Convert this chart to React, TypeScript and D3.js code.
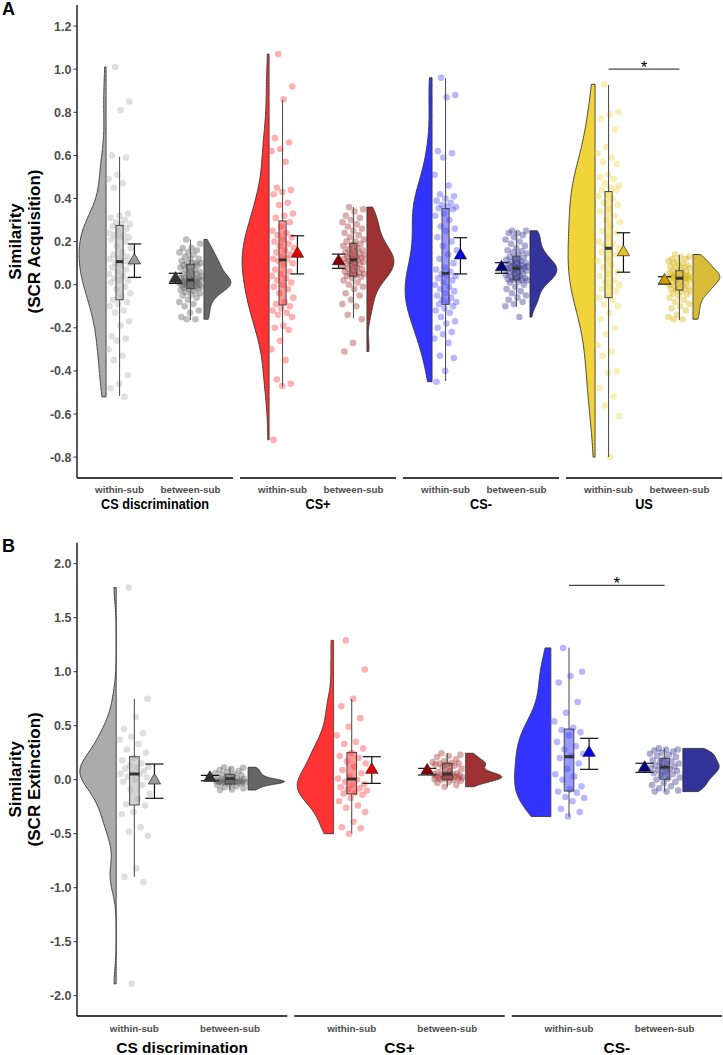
import React from "react";
import * as d3 from "d3";

// ---------------- data ----------------
const facetsA = ["CS discrimination", "CS+", "CS-", "US"];
const facetsB = ["CS discrimination", "CS+", "CS-"];
const conditions = ["within-sub", "between-sub"];

// Panel A (SCR Acquisition)
const aCSdWithin = [1.01, 0.85, 0.81, 0.60, 0.59, 0.51, 0.49, 0.47, 0.45, 0.33, 0.32, 0.31, 0.30, 0.29, 0.28, 0.28, 0.27, 0.26, 0.25, 0.24, 0.23, 0.23, 0.22, 0.22, 0.21, 0.20, 0.18, 0.17, 0.15, 0.14, 0.13, 0.12, 0.12, 0.11, 0.10, 0.10, 0.09, 0.08, 0.07, 0.06, 0.05, 0.04, 0.03, 0.02, 0.02, 0.01, -0.01, -0.02, -0.04, -0.05, -0.07, -0.08, -0.09, -0.10, -0.12, -0.13, -0.17, -0.19, -0.24, -0.25, -0.26, -0.30, -0.33, -0.35, -0.42, -0.46, -0.48, -0.52];
const aCSdBetween = [0.21, 0.19, 0.17, 0.17, 0.16, 0.15, 0.15, 0.14, 0.13, 0.12, 0.12, 0.11, 0.10, 0.10, 0.10, 0.10, 0.09, 0.09, 0.08, 0.08, 0.07, 0.07, 0.06, 0.06, 0.05, 0.05, 0.05, 0.04, 0.04, 0.03, 0.03, 0.03, 0.03, 0.02, 0.02, 0.02, 0.018, 0.015, 0.012, 0.01, 0.008, 0.005, 0.003, 0.0, 0.0, -0.003, -0.005, -0.008, -0.01, -0.012, -0.015, -0.017, -0.02, -0.025, -0.03, -0.035, -0.04, -0.045, -0.05, -0.06, -0.07, -0.08, -0.09, -0.10, -0.12, -0.13, -0.15, -0.16, -0.16];
const aCSpWithin = [1.07, 0.92, 0.86, 0.68, 0.66, 0.63, 0.62, 0.57, 0.45, 0.44, 0.43, 0.42, 0.38, 0.37, 0.33, 0.32, 0.31, 0.29, 0.27, 0.25, 0.24, 0.23, 0.22, 0.21, 0.20, 0.19, 0.18, 0.17, 0.16, 0.15, 0.14, 0.13, 0.12, 0.12, 0.11, 0.10, 0.09, 0.07, 0.06, 0.05, 0.04, 0.03, 0.02, 0.01, 0.0, -0.01, -0.02, -0.04, -0.06, -0.08, -0.09, -0.10, -0.11, -0.12, -0.13, -0.14, -0.15, -0.19, -0.20, -0.21, -0.26, -0.30, -0.35, -0.44, -0.46, -0.47, -0.72];
const aCSpBetween = [0.36, 0.35, 0.34, 0.32, 0.31, 0.30, 0.29, 0.28, 0.27, 0.26, 0.25, 0.24, 0.23, 0.22, 0.21, 0.20, 0.20, 0.19, 0.185, 0.18, 0.17, 0.165, 0.16, 0.155, 0.15, 0.145, 0.14, 0.135, 0.13, 0.13, 0.125, 0.12, 0.12, 0.115, 0.11, 0.105, 0.10, 0.10, 0.095, 0.09, 0.085, 0.08, 0.075, 0.07, 0.065, 0.06, 0.055, 0.05, 0.05, 0.045, 0.04, 0.035, 0.03, 0.02, 0.01, 0.0, -0.01, -0.02, -0.04, -0.05, -0.07, -0.09, -0.10, -0.14, -0.16, -0.27, -0.31];
const aCSmWithin = [0.96, 0.88, 0.87, 0.62, 0.61, 0.59, 0.51, 0.46, 0.42, 0.41, 0.40, 0.39, 0.38, 0.37, 0.36, 0.36, 0.355, 0.35, 0.33, 0.32, 0.30, 0.27, 0.26, 0.25, 0.22, 0.20, 0.18, 0.16, 0.14, 0.12, 0.10, 0.08, 0.07, 0.06, 0.05, 0.04, 0.04, 0.03, 0.02, 0.01, 0.0, -0.01, -0.02, -0.03, -0.04, -0.05, -0.06, -0.07, -0.08, -0.08, -0.09, -0.10, -0.11, -0.12, -0.13, -0.15, -0.17, -0.18, -0.20, -0.22, -0.23, -0.25, -0.27, -0.33, -0.34, -0.40, -0.45];
const aCSmBetween = [0.25, 0.25, 0.24, 0.24, 0.23, 0.22, 0.21, 0.20, 0.19, 0.18, 0.17, 0.16, 0.155, 0.15, 0.145, 0.14, 0.13, 0.125, 0.12, 0.115, 0.11, 0.105, 0.10, 0.10, 0.095, 0.09, 0.09, 0.085, 0.08, 0.08, 0.078, 0.077, 0.075, 0.07, 0.068, 0.065, 0.06, 0.055, 0.05, 0.05, 0.045, 0.04, 0.035, 0.03, 0.03, 0.025, 0.022, 0.022, 0.02, 0.015, 0.01, 0.0, -0.01, -0.02, -0.03, -0.04, -0.05, -0.06, -0.07, -0.08, -0.09, -0.10, -0.15];
const aUSWithin = [0.93, 0.80, 0.79, 0.77, 0.72, 0.64, 0.61, 0.59, 0.57, 0.56, 0.51, 0.50, 0.49, 0.47, 0.46, 0.45, 0.44, 0.44, 0.42, 0.41, 0.40, 0.38, 0.37, 0.35, 0.34, 0.32, 0.30, 0.29, 0.27, 0.25, 0.24, 0.22, 0.20, 0.19, 0.18, 0.17, 0.16, 0.15, 0.14, 0.12, 0.11, 0.09, 0.08, 0.06, 0.05, 0.04, 0.02, 0.01, 0.0, -0.01, -0.02, -0.03, -0.05, -0.06, -0.07, -0.09, -0.10, -0.13, -0.16, -0.20, -0.23, -0.28, -0.31, -0.33, -0.40, -0.41, -0.48, -0.52, -0.56, -0.61, -0.80];
const aUSBetween = [0.14, 0.13, 0.13, 0.12, 0.12, 0.11, 0.11, 0.10, 0.10, 0.09, 0.09, 0.085, 0.08, 0.08, 0.075, 0.07, 0.065, 0.06, 0.06, 0.055, 0.05, 0.05, 0.045, 0.045, 0.04, 0.04, 0.04, 0.035, 0.035, 0.035, 0.03, 0.03, 0.03, 0.025, 0.02, 0.02, 0.015, 0.01, 0.01, 0.005, 0.0, -0.005, -0.01, -0.01, -0.015, -0.02, -0.02, -0.025, -0.03, -0.035, -0.04, -0.045, -0.05, -0.06, -0.07, -0.08, -0.09, -0.10, -0.11, -0.12, -0.14, -0.15, -0.16, -0.16];

// summary values per group, order: [CSd-w, CSd-b, CS+-w, CS+-b, CS--w, CS--b, US-w, US-b]
const medianA = [0.107, 0.022, 0.115, 0.115, 0.053, 0.076, 0.169, 0.03];
const q1A = [-0.07, -0.017, -0.094, 0.04, -0.091, 0.022, -0.06, -0.025];
const q3A = [0.275, 0.095, 0.296, 0.192, 0.353, 0.133, 0.432, 0.065];
const whiskLoA = [-0.516, -0.164, -0.473, -0.156, -0.447, -0.102, -0.80, -0.164];
const whiskHiA = [0.594, 0.21, 0.857, 0.36, 0.958, 0.25, 0.927, 0.138];
const meanA = [0.115, 0.03, 0.146, 0.111, 0.138, 0.083, 0.153, 0.022];
const ciLoA = [0.034, 0.006, 0.05, 0.076, 0.05, 0.053, 0.058, 0.003];
const ciHiA = [0.189, 0.053, 0.227, 0.142, 0.218, 0.102, 0.241, 0.037];

// Panel B (SCR Extinction)
const bCSdWithin = [1.78, 0.75, 0.58, 0.47, 0.43, 0.40, 0.37, 0.33, 0.28, 0.25, 0.20, 0.18, 0.15, 0.13, 0.12, 0.11, 0.10, 0.08, 0.06, 0.055, 0.05, 0.03, 0.02, 0.0, -0.02, -0.05, -0.09, -0.13, -0.18, -0.23, -0.24, -0.30, -0.32, -0.44, -0.48, -0.52, -0.82, -0.90, -0.95, -1.89];
const bCSdBetween = [0.115, 0.11, 0.10, 0.09, 0.08, 0.07, 0.06, 0.05, 0.045, 0.04, 0.03, 0.02, 0.015, 0.01, 0.005, 0.0, -0.005, -0.01, -0.012, -0.015, -0.015, -0.018, -0.02, -0.02, -0.02, -0.022, -0.025, -0.025, -0.03, -0.03, -0.035, -0.04, -0.05, -0.06, -0.07, -0.08, -0.09, -0.095];
const bCSpWithin = [1.29, 1.02, 0.75, 0.68, 0.57, 0.49, 0.41, 0.35, 0.33, 0.29, 0.25, 0.22, 0.20, 0.17, 0.15, 0.12, 0.09, 0.06, 0.03, 0.01, 0.0, -0.02, -0.04, -0.05, -0.07, -0.08, -0.09, -0.10, -0.12, -0.13, -0.14, -0.17, -0.20, -0.24, -0.26, -0.30, -0.39, -0.44, -0.45, -0.50];
const bCSpBetween = [0.245, 0.23, 0.22, 0.21, 0.19, 0.17, 0.16, 0.155, 0.15, 0.15, 0.14, 0.14, 0.13, 0.12, 0.10, 0.08, 0.07, 0.06, 0.055, 0.053, 0.05, 0.045, 0.04, 0.035, 0.03, 0.03, 0.025, 0.02, 0.02, 0.015, 0.01, 0.01, 0.005, 0.0, 0.0, -0.01, -0.02, -0.03, -0.05, -0.065];
const bCSmWithin = [1.22, 1.00, 0.96, 0.90, 0.72, 0.62, 0.54, 0.48, 0.46, 0.44, 0.41, 0.35, 0.31, 0.28, 0.24, 0.22, 0.20, 0.15, 0.10, 0.05, 0.03, 0.0, -0.06, -0.09, -0.11, -0.12, -0.16, -0.17, -0.20, -0.27, -0.30, -0.34];
const bCSmBetween = [0.29, 0.28, 0.28, 0.27, 0.26, 0.25, 0.24, 0.23, 0.22, 0.21, 0.19, 0.18, 0.17, 0.16, 0.15, 0.14, 0.13, 0.12, 0.12, 0.11, 0.10, 0.09, 0.08, 0.07, 0.06, 0.05, 0.04, 0.02, 0.01, 0.0, -0.02, -0.03, -0.05, -0.06, -0.08, -0.10, -0.11, -0.11];

const medianB = [0.053, 0.01, 0.006, 0.053, 0.213, 0.115];
const q1B = [-0.234, -0.04, -0.132, 0.0, -0.105, 0.004];
const q3B = [0.213, 0.05, 0.253, 0.152, 0.469, 0.198];
const whiskLoB = [-0.898, -0.095, -0.496, -0.065, -0.343, -0.11];
const whiskHiB = [0.747, 0.115, 0.747, 0.244, 1.222, 0.29];
const meanB = [-0.003, 0.022, 0.096, 0.09, 0.253, 0.115];
const ciLoB = [-0.172, -0.01, -0.034, 0.044, 0.096, 0.068];
const ciHiB = [0.145, 0.04, 0.213, 0.105, 0.383, 0.152];

const ticksA = [-0.8, -0.6, -0.4, -0.2, 0.0, 0.2, 0.4, 0.6, 0.8, 1.0, 1.2];
const ticksB = [-2.0, -1.5, -1.0, -0.5, 0.0, 0.5, 1.0, 1.5, 2.0];

const sigFacetA = "US";
const sigYA = 1.0;
const sigFacetB = "CS-";
const sigYB = 1.8;

// colours per facet: CS discrimination, CS+, CS-, US
const violinWithin = ["#ABABAB", "#FF3333", "#3333FF", "#F0D43A"];
const violinBetween = ["#666666", "#9E3232", "#333399", "#D8BC38"];
const pointWithin = ["#AAAAAA", "#FF3333", "#4444FF", "#EFD33A"];
const pointBetween = ["#555555", "#A02828", "#2A2A90", "#D4AF00"];
const meanWithin = ["#9A9A9A", "#E60000", "#0000E6", "#E8C21E"];
const meanBetween = ["#333333", "#8B0000", "#000080", "#C9A100"];

// ---------------- helpers ----------------
function kde(values: number[], n = 256): [number, number][] {
  const s = values.slice().sort(d3.ascending);
  const sd = d3.deviation(s) || 0.1;
  const iqr = (d3.quantile(s, 0.75) as number) - (d3.quantile(s, 0.25) as number);
  let lo = Math.min(sd, iqr / 1.34);
  if (!(lo > 0)) lo = sd;
  const bw = 0.9 * lo * Math.pow(s.length, -0.2);
  const [mn, mx] = d3.extent(s) as [number, number];
  return d3.range(n).map((i) => {
    const v = mn + ((mx - mn) * i) / (n - 1);
    const dens = d3.mean(s, (x) => Math.exp(-0.5 * ((v - x) / bw) ** 2)) as number;
    return [v, dens];
  });
}

const FONT = "'Liberation Sans', Arial, Helvetica, sans-serif";

type Stats = { median: number; q1: number; q3: number; wLo: number; wHi: number; mean: number; ciLo: number; ciHi: number };

function Raincloud(props: {
  vals: number[]; st: Stats; cx: number; u: number; y: d3.ScaleLinear<number, number>;
  side: number; vColor: string; pColor: string; mColor: string;
}) {
  const { vals, st, cx, u, y, side, vColor, pColor, mColor } = props;
  const dens = kde(vals);
  const maxD = d3.max(dens, (d) => d[1]) as number;
  const flat = cx + side * 0.19 * u;
  const maxW = 0.38 * u;
  const area = d3
    .area<[number, number]>()
    .y((d) => y(d[0]))
    .x0(flat)
    .x1((d) => flat + (side * d[1] * maxW) / maxD);
  const jw = 0.16 * u;
  const bw = 0.05 * u;
  const mx = cx - side * 0.21 * u;
  const cap = 0.095 * u;
  const my = y(st.mean);
  const tw = 6.2;
  const th = 10.5;
  return (
    <g>
      <path d={area(dens) || ""} fill={vColor} stroke="#333" strokeWidth={0.9} />
      {vals.map((v, i) => {
        const off = (((i * 0.6180339887 + 0.31) % 1) - 0.5) * 2 * jw;
        return <circle key={i} cx={cx + off} cy={y(v)} r={3.3} fill={pColor} fillOpacity={0.38} />;
      })}
      <line x1={cx} x2={cx} y1={y(st.wHi)} y2={y(st.q3)} stroke="#555" strokeWidth={1.1} />
      <line x1={cx} x2={cx} y1={y(st.q1)} y2={y(st.wLo)} stroke="#555" strokeWidth={1.1} />
      <rect x={cx - bw} y={y(st.q3)} width={2 * bw} height={y(st.q1) - y(st.q3)} fill={vColor} fillOpacity={0.5} stroke="#444" strokeWidth={1} />
      <line x1={cx - bw} x2={cx + bw} y1={y(st.median)} y2={y(st.median)} stroke="#333" strokeWidth={3} />
      <line x1={mx} x2={mx} y1={y(st.ciLo)} y2={y(st.ciHi)} stroke="#111" strokeWidth={1.2} />
      <line x1={mx - cap} x2={mx + cap} y1={y(st.ciLo)} y2={y(st.ciLo)} stroke="#111" strokeWidth={1.2} />
      <line x1={mx - cap} x2={mx + cap} y1={y(st.ciHi)} y2={y(st.ciHi)} stroke="#111" strokeWidth={1.2} />
      <path d={`M${mx},${my - th * 0.62}L${mx + tw},${my + th * 0.38}L${mx - tw},${my + th * 0.38}Z`} fill={mColor} stroke="#222" strokeWidth={0.7} />
    </g>
  );
}

function Panel(props: {
  label: string; labelY: number; facets: string[]; data: number[][];
  median: number[]; q1: number[]; q3: number[]; wLo: number[]; wHi: number[];
  mean: number[]; ciLo: number[]; ciHi: number[];
  yDomain: [number, number]; yRange: [number, number]; top: number; bottom: number;
  ticks: number[]; title2: string; titleSize: number; titleScaleX: number; titleBase: number;
  xLabBase: number; sigFacet: string; sigY: number;
}) {
  const p = props;
  const y = d3.scaleLinear().domain(p.yDomain).range(p.yRange);
  const left = 77;
  const right = 722;
  const gap = 7;
  const step = (right - left + gap) / p.facets.length;
  const fx = d3.scaleBand().domain(p.facets).range([left, right + gap]).paddingInner(0).paddingOuter(0);
  const fw = step - gap;
  const midY = (p.top + p.bottom) / 2;
  return (
    <g fontFamily={FONT}>
      <text x={2} y={p.labelY} fontSize={18} fontWeight="bold" fill="#000">{p.label}</text>
      {/* y title */}
      <text transform={`translate(21,${midY}) rotate(-90)`} textAnchor="middle" fontSize={17} fontWeight="bold" fill="#000">Similarity</text>
      <text transform={`translate(40,${midY}) rotate(-90)`} textAnchor="middle" fontSize={17} fontWeight="bold" fill="#000">{p.title2}</text>
      {/* y axis */}
      <line x1={left} x2={left} y1={p.top} y2={p.bottom} stroke="#000" strokeWidth={1.3} />
      {p.ticks.map((t) => (
        <g key={t}>
          <line x1={left - 3.5} x2={left} y1={y(t)} y2={y(t)} stroke="#333" strokeWidth={1} />
          <text x={left - 5.5} y={y(t)} dy="0.36em" textAnchor="end" fontSize={12.5} fontWeight="bold" fill="#4D4D4D">{t.toFixed(1)}</text>
        </g>
      ))}
      {p.facets.map((f, fi) => {
        const x0 = fx(f) as number;
        const xs = d3.scalePoint().domain(conditions).range([x0, x0 + fw]).padding(0.6);
        const u = xs.step();
        const fcx = x0 + fw / 2;
        return (
          <g key={f}>
            <line x1={x0} x2={x0 + fw} y1={p.bottom} y2={p.bottom} stroke="#000" strokeWidth={1.3} />
            {conditions.map((c, ci) => {
              const gi = fi * 2 + ci;
              const side = ci === 0 ? -1 : 1;
              const st: Stats = {
                median: p.median[gi], q1: p.q1[gi], q3: p.q3[gi], wLo: p.wLo[gi], wHi: p.wHi[gi],
                mean: p.mean[gi], ciLo: p.ciLo[gi], ciHi: p.ciHi[gi],
              };
              return (
                <g key={c}>
                  <Raincloud
                    vals={p.data[gi]} st={st} cx={xs(c) as number} u={u} y={y} side={side}
                    vColor={ci === 0 ? violinWithin[fi] : violinBetween[fi]}
                    pColor={ci === 0 ? pointWithin[fi] : pointBetween[fi]}
                    mColor={ci === 0 ? meanWithin[fi] : meanBetween[fi]}
                  />
                  <text x={xs(c) as number} y={p.xLabBase} textAnchor="middle" fontSize={9.8} fontWeight="bold" fill="#4D4D4D">{c}</text>
                </g>
              );
            })}
            <text transform={`translate(${fcx},${p.titleBase}) scale(${p.titleScaleX},1)`} textAnchor="middle" fontSize={p.titleSize} fontWeight="bold" fill="#000">{f}</text>
            {f === p.sigFacet && (
              <g>
                <line x1={xs(conditions[0]) as number} x2={xs(conditions[1]) as number} y1={y(p.sigY)} y2={y(p.sigY)} stroke="#444" strokeWidth={1.2} />
                <text x={((xs(conditions[0]) as number) + (xs(conditions[1]) as number)) / 2} y={y(p.sigY) + 4} textAnchor="middle" fontSize={17} fill="#000">*</text>
              </g>
            )}
          </g>
        );
      })}
    </g>
  );
}

export default function App() {
  return (
    <svg width={723} height={1055} style={{ position: "absolute", left: 0, top: 0, background: "#fff" }}>
      <rect x={0} y={0} width={723} height={1055} fill="#fff" />
      <Panel
        label="A" labelY={14.5} facets={facetsA}
        data={[aCSdWithin, aCSdBetween, aCSpWithin, aCSpBetween, aCSmWithin, aCSmBetween, aUSWithin, aUSBetween]}
        median={medianA} q1={q1A} q3={q3A} wLo={whiskLoA} wHi={whiskHiA} mean={meanA} ciLo={ciLoA} ciHi={ciHiA}
        yDomain={[-0.8, 1.2]} yRange={[457.1, 26.1]} top={5} bottom={478}
        ticks={ticksA} title2="(SCR Acquisition)" titleSize={15.5} titleScaleX={0.82} titleBase={508.5}
        xLabBase={493.3} sigFacet={sigFacetA} sigY={sigYA}
      />
      <Panel
        label="B" labelY={551.5} facets={facetsB}
        data={[bCSdWithin, bCSdBetween, bCSpWithin, bCSpBetween, bCSmWithin, bCSmBetween]}
        median={medianB} q1={q1B} q3={q3B} wLo={whiskLoB} wHi={whiskHiB} mean={meanB} ciLo={ciLoB} ciHi={ciHiB}
        yDomain={[-2, 2]} yRange={[995.7, 563.7]} top={542.7} bottom={1016}
        ticks={ticksB} title2="(SCR Extinction)" titleSize={15.5} titleScaleX={1} titleBase={1052.5}
        xLabBase={1031.5} sigFacet={sigFacetB} sigY={sigYB}
      />
    </svg>
  );
}
